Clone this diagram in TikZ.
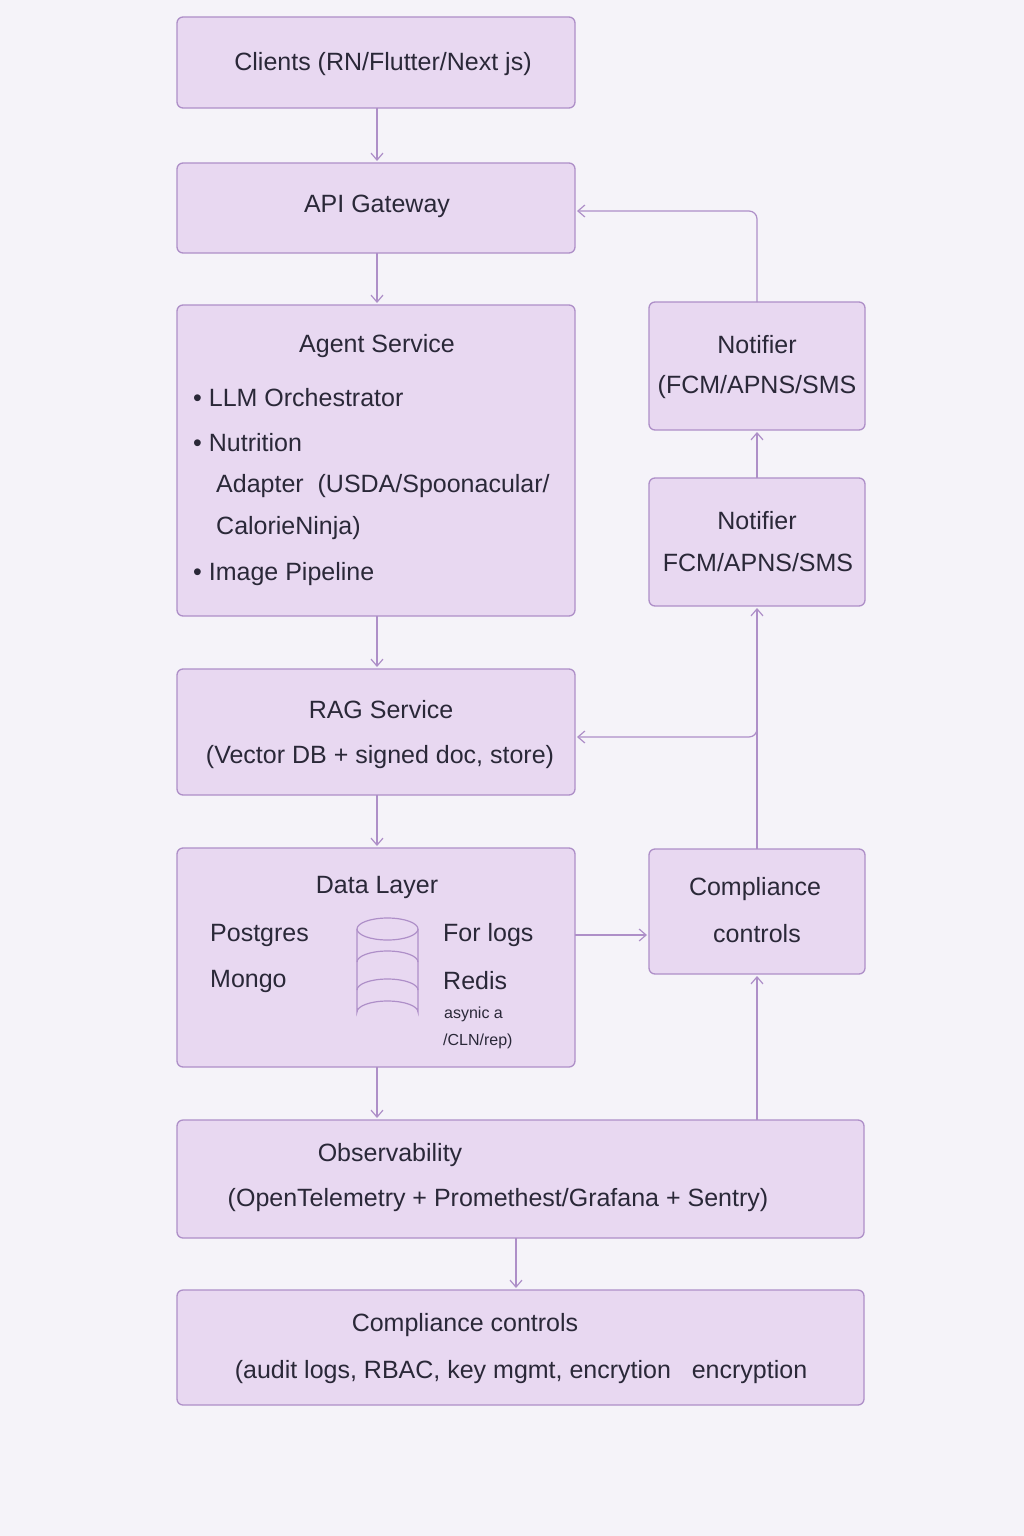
\documentclass[tikz,border=0pt]{standalone}
\usepackage{fontspec}
\setmainfont{Liberation Sans}
\begin{document}
\begin{tikzpicture}[x=1pt,y=-1pt,
  box/.style={draw=boxd,fill=boxf,line width=1.3pt,rounded corners=6pt,inner sep=0pt},
  txt/.style={text=ink,font=\fontsize{25}{30}\selectfont,inner sep=0pt},
  stxt/.style={text=ink,font=\fontsize{16}{20}\selectfont,inner sep=0pt},
  arr/.style={draw=boxd,line width=1.2pt,->,>={Straight Barb[length=7pt,width=12pt]}},
  ln/.style={draw=boxd,line width=1.2pt}]
\definecolor{bg}{HTML}{F5F3F9}
\definecolor{boxf}{HTML}{E8D8F1}
\definecolor{boxd}{HTML}{AE8FC8}
\definecolor{ink}{HTML}{2A2838}
\usetikzlibrary{arrows.meta}
\fill[bg] (0,0) rectangle (1024,1536);
\useasboundingbox (0,0) rectangle (1024,1536);
% boxes
\draw[box] (177,17) rectangle (575,108) coordinate (c1); \coordinate (clients) at (376,62);
\draw[box] (177,163) rectangle (575,253);
\draw[box] (177,305) rectangle (575,616);
\draw[box] (177,669) rectangle (575,795);
\draw[box] (177,848) rectangle (575,1067);
\draw[box] (177,1120) rectangle (864,1238);
\draw[box] (177,1290) rectangle (864,1405);
\draw[box] (649,302) rectangle (865,430);
\draw[box] (649,478) rectangle (865,606);
\draw[box] (649,849) rectangle (865,974);
% texts
\node[txt] (t1) at (383,64) {Clients (RN/Flutter/Next js)};
\node[txt] (t2) at (377,206) {API Gateway};
\node[txt] (t3) at (377,346) {Agent Service};
\node[txt,anchor=west] (t3a) at (193,398) {• LLM Orchestrator};
\node[txt,anchor=west] (t3b) at (193,443) {• Nutrition};
\node[txt,anchor=west] (t3c) at (216,486) {Adapter\ \ (USDA/Spoonacular/};
\node[txt,anchor=west] (t3d) at (216,528) {CalorieNinja)};
\node[txt,anchor=west] (t3e) at (193,574) {• Image Pipeline};
\node[txt] (t4) at (381,710) {RAG Service};
\node[txt] (t4b) at (380,757) {(Vector DB + signed doc, store)};
\node[txt] (t5) at (377,887) {Data Layer};
\node[txt,anchor=west] (t5a) at (210,935) {Postgres};
\node[txt,anchor=west] (t5b) at (210,981) {Mongo};
\node[txt,anchor=west] (t5c) at (443,935) {For logs};
\node[txt,anchor=west] (t5d) at (443,981) {Redis};
\node[stxt,anchor=west] (t5e) at (444,1014) {asynic a};
\node[stxt,anchor=west] (t5f) at (443,1041) {/CLN/rep)};
\node[txt] (t6) at (390,1155) {Observability};
\node[txt] (t6b) at (498,1200) {(OpenTelemetry + Promethest/Grafana + Sentry)};
\node[txt] (t7) at (465,1325) {Compliance controls};
\node[txt] (t7b) at (521,1372) {(audit logs, RBAC, key mgmt, encrytion\ \ \ encryption};
\node[txt] (n1) at (757,345) {Notifier};
\node[txt] (n1b) at (757,387) {(FCM/APNS/SMS};
\node[txt] (n2) at (757,521) {Notifier};
\node[txt] (n2b) at (758,563) {FCM/APNS/SMS};
\node[txt] (cc) at (755,889) {Compliance};
\node[txt] (ccb) at (757,934) {controls};
% cylinder
\begin{scope}[draw=boxd,line width=1.2pt]
\draw[fill=boxf] (357,929) -- (357,1012) arc[start angle=180,end angle=360,x radius=30.5,y radius=11] -- (418,929);
\draw[fill=boxf] (387.5,929) ellipse[x radius=30.5,y radius=11];
\draw (357,962) arc[start angle=180,end angle=360,x radius=30.5,y radius=11];
\draw (357,990) arc[start angle=180,end angle=360,x radius=30.5,y radius=11];
\end{scope}
% connectors
\draw[arr] (377,108) -- (377,161);
\draw[arr] (377,253) -- (377,303);
\draw[arr] (377,616) -- (377,667);
\draw[arr] (377,795) -- (377,846);
\draw[arr] (377,1067) -- (377,1118);
\draw[arr] (516,1238) -- (516,1288);
\draw[arr] (757,302) -- (757,219) arc[start angle=0,end angle=-90,radius=8] -- (577,211);
\draw[arr] (757,478) -- (757,432);
\draw[arr] (757,849) -- (757,608);
\draw[arr] (757,729) arc[start angle=0,end angle=90,radius=8] -- (577,737);
\draw[arr] (575,935) -- (647,935);
\draw[arr] (757,1120) -- (757,976);
\end{tikzpicture}
\end{document}
